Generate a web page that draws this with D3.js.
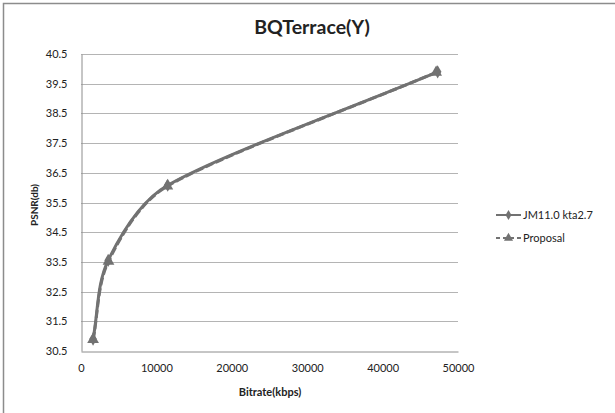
<!DOCTYPE html>
<html>
<head>
<meta charset="utf-8">
<script src="https://cdn.jsdelivr.net/npm/d3@7"></script>
<style>
  body { margin: 0; background: #fff; }
  text { font-family: Lato, "Open Sans", sans-serif; fill: #222; }
</style>
</head>
<body>
<div class="chart"></div>
<script>
// data
var jmBitrate = [1600, 3600, 11500, 47300]
var jmPsnr = [30.9, 33.55, 36.08, 39.9]
var propBitrate = [1600, 3650, 11450, 47100]
var propPsnr = [30.88, 33.52, 36.05, 39.88]
var seriesNames = ['JM11.0 kta2.7', 'Proposal']
var yTicks = [30.5, 31.5, 32.5, 33.5, 34.5, 35.5, 36.5, 37.5, 38.5, 39.5, 40.5]
var xTicks = [0, 10000, 20000, 30000, 40000, 50000]

// excel-like smoothed line: tangent from neighbours, control length capped
function ExcelSmooth(context) { this._context = context }
ExcelSmooth.prototype = {
  areaStart: function() {},
  areaEnd: function() {},
  lineStart: function() { this._pts = [] },
  point: function(x, y) { this._pts.push([+x, +y]) },
  lineEnd: function() {
    var p = this._pts, n = p.length, ctx = this._context
    if (!n) return
    ctx.moveTo(p[0][0], p[0][1])
    if (n < 3) { if (n === 2) ctx.lineTo(p[1][0], p[1][1]); return }
    var dist = (a, b) => Math.hypot(b[0] - a[0], b[1] - a[1])
    var c = []
    for (var i = 1; i < n - 1; i++) {
      var dx = p[i + 1][0] - p[i - 1][0], dy = p[i + 1][1] - p[i - 1][1]
      var lp = dist(p[i - 1], p[i]), ln = dist(p[i], p[i + 1]), s = lp + ln
      var fi = Math.min(1 / 6, lp / s / 3), fo = Math.min(1 / 6, ln / s / 3)
      c[i] = {
        inn: [p[i][0] - dx * fi, p[i][1] - dy * fi],
        out: [p[i][0] + dx * fo, p[i][1] + dy * fo]
      }
    }
    c[0] = { out: [p[0][0] + (p[1][0] - p[0][0]) / 3, p[0][1] + (p[1][1] - p[0][1]) / 3] }
    c[n - 1] = { inn: [p[n - 1][0] - (p[n - 1][0] - p[n - 2][0]) / 3, p[n - 1][1] - (p[n - 1][1] - p[n - 2][1]) / 3] }
    for (var j = 0; j < n - 1; j++) {
      var a = c[j].out, b = c[j + 1].inn
      ctx.bezierCurveTo(a[0], a[1], b[0], b[1], p[j + 1][0], p[j + 1][1])
    }
  }
}
function excelSmooth(context) { return new ExcelSmooth(context) }

var W = 615, H = 413
var svg = d3.select('.chart').append('svg')
  .attr('width', W)
  .attr('height', H)

// outer chart border
svg.append('rect')
  .attr('x', 3.5).attr('y', 3.5)
  .attr('width', W + 10).attr('height', H + 10)
  .attr('fill', 'none')
  .attr('stroke', '#8c8c8c')
  .attr('stroke-width', 1.5)

var x = d3.scaleLinear().domain([0, 50000]).range([81, 458])
var y = d3.scaleLinear().domain([30.5, 40.5]).range([351, 54])

// gridlines
svg.append('g')
  .selectAll('line')
  .data(yTicks.slice(1))
  .enter()
  .append('line')
  .attr('x1', x(0)).attr('x2', x(50000))
  .attr('y1', d => Math.round(y(d)) + 0.5)
  .attr('y2', d => Math.round(y(d)) + 0.5)
  .attr('stroke', '#b4b4b4')
  .attr('stroke-width', 1)

// axes
var yAxis = svg.append('g')
  .attr('transform', 'translate(' + (x(0) + 0.5) + ',0)')
  .call(d3.axisLeft(y).tickValues(yTicks).tickFormat(d3.format('.1f')).tickSize(0).tickPadding(14))
var xAxis = svg.append('g')
  .attr('transform', 'translate(0,' + (Math.round(y(30.5)) + 0.5) + ')')
  .call(d3.axisBottom(x).tickValues(xTicks).tickFormat(d3.format('d')).tickSize(0).tickPadding(13))
;[yAxis, xAxis].forEach(function(a) {
  a.select('.domain').attr('stroke', '#8c8c8c')
  a.selectAll('text').style('font-size', '11px').attr('fill', '#222')
})

// titles
svg.append('text')
  .attr('x', 312).attr('y', 34)
  .attr('text-anchor', 'middle')
  .style('font-size', '19.5px').style('font-weight', 'bold')
  .text('BQTerrace(Y)')
svg.append('text')
  .attr('transform', 'translate(38,' + 205 + ') rotate(-90)')
  .attr('text-anchor', 'middle')
  .style('font-size', '10px').style('font-weight', 'bold')
  .text('PSNR(db)')
svg.append('text')
  .attr('x', 270).attr('y', 396)
  .attr('text-anchor', 'middle')
  .style('font-size', '11px').style('font-weight', 'bold')
  .text('Bitrate(kbps)')

var lineColor = '#727272'
var line = d3.line()
  .x(d => x(d[0]))
  .y(d => y(d[1]))
  .curve(excelSmooth)

var jm = jmBitrate.map((b, i) => [b, jmPsnr[i]])
var prop = propBitrate.map((b, i) => [b, propPsnr[i]])

svg.append('path')
  .datum(jm)
  .attr('d', line)
  .attr('fill', 'none')
  .attr('stroke', lineColor)
  .attr('stroke-width', 3)
svg.append('path')
  .datum(prop)
  .attr('d', line)
  .attr('fill', 'none')
  .attr('stroke', lineColor)
  .attr('stroke-width', 3)
  .attr('stroke-dasharray', '8,3')

var diamond = d3.symbol().type(d3.symbolDiamond).size(50)
var triangle = d3.symbol().type(d3.symbolTriangle).size(60)

svg.selectAll('.jmpt')
  .data(jm)
  .enter()
  .append('path')
  .attr('class', 'jmpt')
  .attr('transform', d => 'translate(' + x(d[0]) + ',' + y(d[1]) + ')')
  .attr('d', diamond)
  .attr('fill', lineColor)
svg.selectAll('.proppt')
  .data(prop)
  .enter()
  .append('path')
  .attr('class', 'proppt')
  .attr('transform', d => 'translate(' + x(d[0]) + ',' + y(d[1]) + ')')
  .attr('d', triangle)
  .attr('fill', lineColor)

// legend
var legend = svg.append('g')
seriesNames.forEach(function(name, i) {
  var ly = 215 + i * 23
  legend.append('line')
    .attr('x1', 496).attr('x2', 521)
    .attr('y1', ly).attr('y2', ly)
    .attr('stroke', lineColor)
    .attr('stroke-width', 2)
    .attr('stroke-dasharray', i === 1 ? '4,3' : null)
  legend.append('path')
    .attr('transform', 'translate(508.5,' + ly + ')')
    .attr('d', i === 0 ? d3.symbol().type(d3.symbolDiamond).size(30) : d3.symbol().type(d3.symbolTriangle).size(36))
    .attr('fill', lineColor)
  legend.append('text')
    .attr('x', 523).attr('y', ly + 4)
    .style('font-size', '11px')
    .text(name)
})
</script>
</body>
</html>
